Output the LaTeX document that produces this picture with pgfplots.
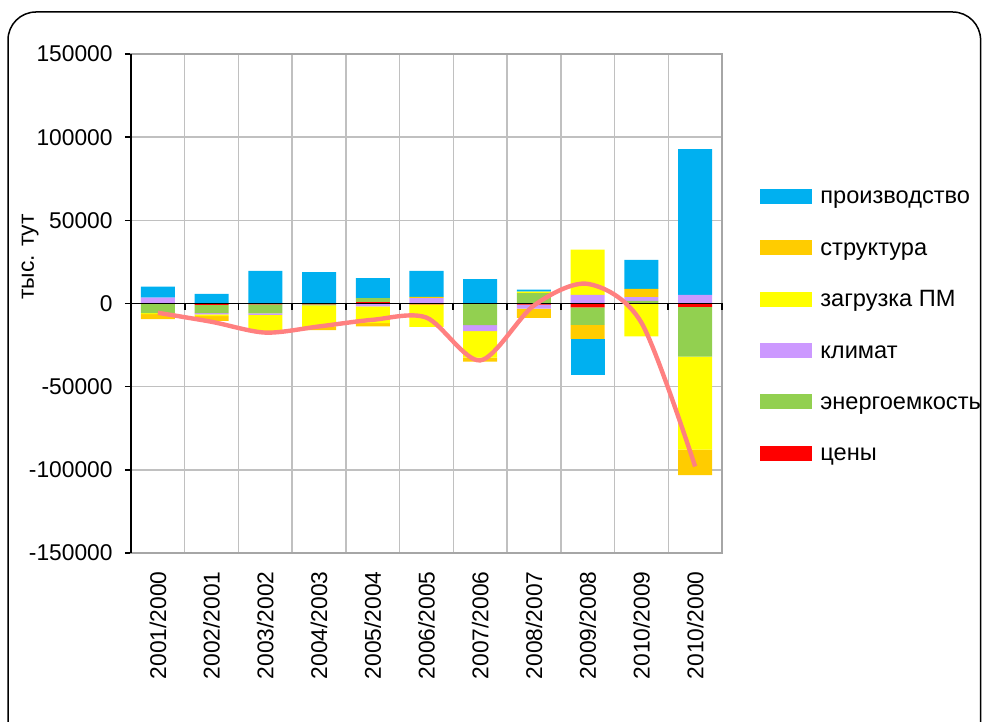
\documentclass[border=0pt]{standalone}
\usepackage{fontspec}
\setmainfont{Liberation Sans}
\usepackage{pgfplots}
\usepackage{pgfplotstable}
\pgfplotsset{compat=1.18}
\definecolor{cPr}{HTML}{00B0F0}
\definecolor{cSt}{HTML}{FFCC00}
\definecolor{cZa}{HTML}{FFFF00}
\definecolor{cKl}{HTML}{CC99FF}
\definecolor{cEn}{HTML}{92D050}
\definecolor{cCe}{HTML}{FF0000}
\definecolor{cLine}{HTML}{FF8080}
\definecolor{cGrid}{HTML}{C0C0C0}
\definecolor{cBox}{HTML}{A6A6A6}
\newcommand\f{\fontsize{11.4}{13.6}\selectfont}
\newcommand\fl{\fontsize{11.8}{14}\selectfont}

% positive parts (stacking order: цены, энергоемкость, климат, загрузка, структура, производство)
\pgfplotstableread{
x  ce   en    kl    za     st    pr
0  0    0     3600  0      0     6600
1  0    0     0     0      0     5800
2  0    0     0     0      0     19600
3  0    0     0     0      0     18800
4  1000 2200  0     0      0     12000
5  0    0     3200  0      800   15600
6  0    0     0     0      0     14600
7  0    6200  0     1000   0     1200
8  0    0     5200  27200  0     0
9  0    1600  2200  0      5000  17400
10 0    0     5200  0      0     87600
}\pos
% negative parts
\pgfplotstableread{
x  ce    en     kl    za     st     pr
0  0     -5800  0     -600   -3000  0
1  -800  -5000  -800  -1000  -2800  0
2  -600  -5400  -800  -10400 0      0
3  -500  -600   0     -12900 -2000  0
4  0     0      -1800 -10000 -2000  0
5  -500  0      0     -13500 0      0
6  0     -13000 -3600 -16000 -2400  0
7  -700  0      -2400 0      -5600  0
8  -2400 -10400 0     0      -8400  -22000
9  0     0      0     -19800 0      0
10 -2000 -30000 0     -55800 -15400 0
}\neg
\pgfplotstableread{
x  y
0  -5600
1  -11000
2  -17500
3  -13800
4  -9800
5  -8500
6  -34200
7  -1200
8  11800
9  -11500
10 -98000
}\total

\pgfplotsset{base/.style={scale only axis, width=295.5pt, height=249.5pt,
  at={(65.5pt,84.5pt)}, anchor=south west,
  xmin=-0.5, xmax=10.5, ymin=-150000, ymax=150000}}

\begin{document}
\begin{tikzpicture}
\useasboundingbox (0,0) rectangle (491pt,361pt);
\draw[line width=0.75pt, rounded corners=14pt] (4pt,-30pt) -- (4pt,355pt) -- (490.3pt,355pt) -- (490.3pt,-30pt);
\node[rotate=90, font=\f] at (15pt,232.5pt) {тыс. тут};

\begin{axis}[base, ybar stacked, bar width=0.633,
  axis line style={draw=cBox, line width=0.75pt},
  xtick={0,...,10},
  xticklabels={2001/2000,2002/2001,2003/2002,2004/2003,2005/2004,2006/2005,2007/2006,2008/2007,2009/2008,2010/2009,2010/2000},
  xticklabel pos=lower,
  major x tick style={draw=none},
  minor xtick={0.5,1.5,...,9.5},
  minor x tick style={draw=none},
  xminorgrids=true,
  ytick={-150000,-100000,...,150000},
  ymajorgrids=true,
  ytick pos=left,
  tick align=outside,
  major tick length=3pt,
  major y tick style={black, line width=0.75pt},
  grid style={cGrid, line width=0.75pt},
  minor grid style={cGrid, line width=0.75pt},
  scaled y ticks=false,
  /pgf/number format/.cd, fixed, set thousands separator={}, assume math mode=true,
  /pgfplots/.cd,
  tick label style={font=\f},
  yticklabel style={inner sep=0pt, xshift=-6pt},
  xticklabel style={yshift=-6pt, rotate=90, anchor=east, inner sep=0pt},
  legend image code/.code={\fill[#1, draw=none] (0pt,-3.75pt) rectangle (26pt,3.75pt); \path (30pt,0pt);},
  legend style={at={(axis description cs:1.0643,0.7305)}, anchor=north west,
    draw=none, fill=none, inner sep=0pt, row sep=18.2pt, font=\fl,
    nodes={inner sep=0pt, text height=7.5pt, text depth=0pt}},
  legend cell align=left,
]
\addplot[fill=cCe, draw=none, forget plot] table[x=x,y=ce]{\pos};
\addplot[fill=cEn, draw=none, forget plot] table[x=x,y=en]{\pos};
\addplot[fill=cKl, draw=none, forget plot] table[x=x,y=kl]{\pos};
\addplot[fill=cZa, draw=none, forget plot] table[x=x,y=za]{\pos};
\addplot[fill=cSt, draw=none, forget plot] table[x=x,y=st]{\pos};
\addplot[fill=cPr, draw=none, forget plot] table[x=x,y=pr]{\pos};
\addlegendimage{fill=cPr, draw=none}\addlegendentry{производство}
\addlegendimage{fill=cSt, draw=none}\addlegendentry{структура}
\addlegendimage{fill=cZa, draw=none}\addlegendentry{загрузка ПМ}
\addlegendimage{fill=cKl, draw=none}\addlegendentry{климат}
\addlegendimage{fill=cEn, draw=none}\addlegendentry{энергоемкость}
\addlegendimage{fill=cCe, draw=none}\addlegendentry{цены}
\end{axis}

\begin{axis}[base, ybar stacked, bar width=0.633, hide axis]
\addplot[fill=cCe, draw=none] table[x=x,y=ce]{\neg};
\addplot[fill=cEn, draw=none] table[x=x,y=en]{\neg};
\addplot[fill=cKl, draw=none] table[x=x,y=kl]{\neg};
\addplot[fill=cZa, draw=none] table[x=x,y=za]{\neg};
\addplot[fill=cSt, draw=none] table[x=x,y=st]{\neg};
\addplot[fill=cPr, draw=none] table[x=x,y=pr]{\neg};
\end{axis}

\begin{axis}[base, hide axis, clip=false]
\draw[black, line width=0.9pt] (axis cs:-0.5,0) -- (axis cs:10.5,0);
\pgfplotsinvokeforeach{0.5,1.5,2.5,3.5,4.5,5.5,6.5,7.5,8.5,9.5,10.5}{
  \draw[black, line width=0.9pt] (axis cs:#1,0) -- ([yshift=-3.5pt]axis cs:#1,0);}
\draw[black, line width=0.9pt] (axis cs:-0.5,-150000) -- (axis cs:-0.5,150000);
\addplot[cLine, line width=2.2pt, smooth, no marks] table[x=x,y=y]{\total};
\end{axis}
\end{tikzpicture}
\end{document}
